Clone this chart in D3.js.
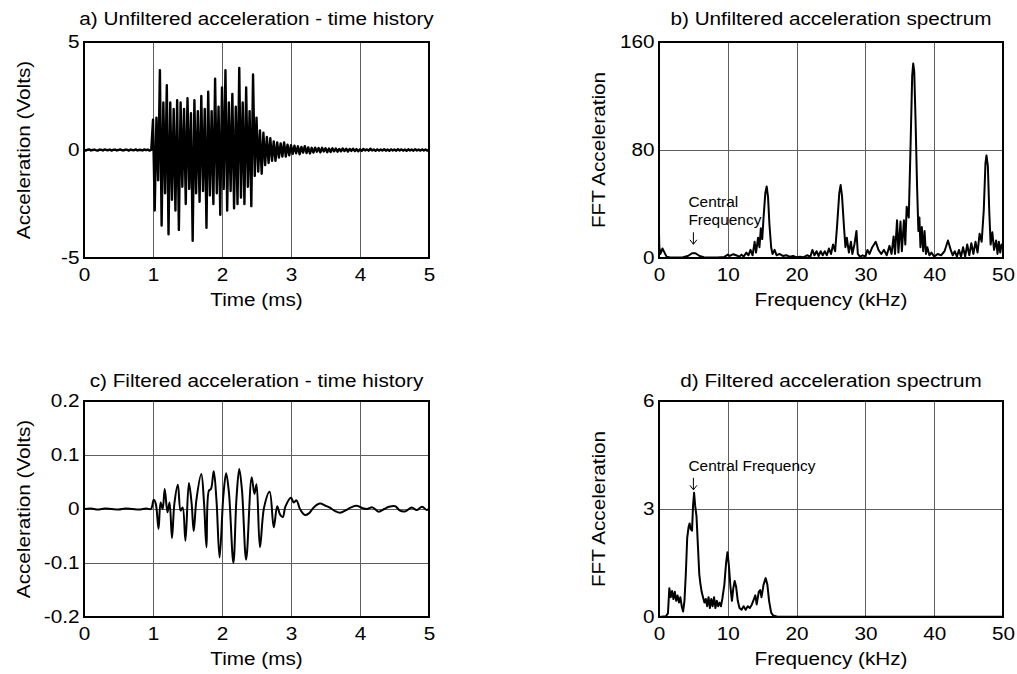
<!DOCTYPE html>
<html>
<head>
<meta charset="utf-8">
<script src="https://cdn.jsdelivr.net/npm/d3@7"></script>
<style>
  body { margin: 0; background: #fff; }
  text { font-family: Arial, "Liberation Sans", Helvetica, sans-serif; fill: #000; }
</style>
</head>
<body>
<svg id="chart" width="1017" height="674"></svg>
<script>
// ---- a) unfiltered acceleration, sampled every 0.025 ms from 0 ms ----
const accelStartMs = 0;
const accelStepMs = 0.025;
const accelPreTrigger = [0.02,-0.03,0.01,0.03,-0.02,0.00,0.02,-0.01,-0.03,0.02,0.01,-0.02,0.03,0.00,-0.01,0.02,-0.03,0.01,0.02,-0.02,
  0.00,0.03,-0.01,-0.02,0.02,0.01,-0.03,0.02,0.00,-0.01,0.03,-0.02,0.01,0.00,-0.02,0.03,-0.01,0.02,-0.03,0.01];
const accelBurst = [1.4,-2.8,1.5,-1.4,3.7,-3.5,2.2,-2.0,3.0,-3.9,2.2,-2.3,1.9,-2.8,2.3,-3.7,2.2,-1.7,1.9,-2.5,
  2.4,-1.8,1.7,-4.2,2.3,-2.0,1.8,-2.4,2.5,-1.9,1.9,-3.6,2.7,-2.1,1.8,-2.5,3.3,-2.0,2.0,-3.0,
  2.9,-1.8,3.7,-2.8,2.2,-1.9,2.6,-2.7,2.0,-2.5,3.8,-2.2,2.2,-2.5,2.9,-1.7,1.8,-2.6,3.5,-1.2,
  1.5,-1.0,0.9,-1.1,0.8,-0.7,0.6,-0.6,0.55,-0.5,0.4,-0.5,0.35,-0.35,0.3,-0.3,0.35,-0.3,0.25,-0.25];
const accelTail = [0.22,-0.18,0.2,-0.15,0.17,-0.2,0.14,-0.12,0.18,-0.14,0.12,-0.16,
  0.1,-0.12,0.11,-0.08,0.09,-0.11,0.1,-0.07,0.08,-0.1,0.07,-0.09,
  0.08,-0.06,0.07,-0.08,0.05,-0.06,0.07,-0.05,0.06,-0.07,0.05,-0.04,0.06,-0.05,0.04,-0.06,
  0.03,-0.04,0.05,-0.02,0.03,-0.03,0.06,-0.02,0.02,-0.04,0.03,-0.03,0.02,-0.02,0.04,-0.03,0.02,-0.04,0.03,-0.02,
  0.02,-0.03,0.04,-0.02,0.03,-0.03,0.02,-0.04,0.03,-0.02,0.02,-0.03,0.04,-0.02,0.02,-0.03,0.03,-0.02,0.02,-0.03,0.01];

// ---- b) unfiltered spectrum ----
const specRawKHz = [0,0.05,0.2,0.5,0.8,1.1,1.5,2.5,3.5,4.2,4.8,5.3,5.9,6.5,7.5,8.5,9.5,10.0,10.3,10.8,11.2,11.7,12.0,12.3,12.7,13.0,13.3,13.6,13.9,14.1,
  14.4,14.6,14.8,15.0,15.2,15.45,15.65,15.85,16.05,16.3,16.5,16.8,17.1,17.5,18.0,18.5,19.0,19.5,20.0,20.5,21.0,21.5,22.0,22.3,22.6,22.9,23.2,23.5,23.8,24.1,
  24.4,24.7,25.0,25.3,25.6,25.9,26.2,26.4,26.6,26.9,27.1,27.3,27.6,27.9,28.1,28.4,28.7,28.9,29.2,29.6,30.0,30.3,30.6,31.0,31.5,31.9,32.3,32.7,33.1,33.5,
  33.8,34.1,34.3,34.6,34.8,35.1,35.3,35.6,35.8,36.0,36.3,36.55,36.8,36.95,37.1,37.3,37.5,37.7,37.85,38.0,38.2,38.4,38.6,38.8,39.0,39.3,39.6,40.0,40.5,41.0,
  41.5,42.0,42.4,42.7,43.0,43.3,43.6,43.9,44.2,44.5,44.8,45.1,45.4,45.7,46.0,46.3,46.6,46.9,47.2,47.45,47.6,47.8,48.0,48.2,48.45,48.7,49.0,49.2,49.4,49.6,
  49.8,50.0];
const specRawAmp = [19,8,3,7,4,1,0.5,0.3,0.5,1.5,3.5,3.5,1.5,0.5,0.3,0.4,0.8,2.5,1.5,2.8,2.0,1.0,2.5,1.0,4,2,6,2,12,4,
  15,8,22,14,30,48,53,45,25,8,3,6,2,3,1.5,2,1,1.5,0.5,1,0.5,2,1,6,2,5,1.5,5,2,5,
  2,7,3,10,5,25,48,54,46,22,8,15,4,12,3,10,20,3,1,2,1,6,3,8,12,6,3,6,2,9,
  3,16,3,28,4,27,5,28,10,38,30,80,135,144,138,100,55,20,30,8,23,5,20,3,8,2,4,1,3,2,
  5,13,6,2,5,1,6,1,8,1,10,2,11,3,12,4,18,12,35,70,76,68,35,10,19,6,13,3,12,4,
  10,8];

// ---- c) filtered acceleration ----
const filtTimeMs = [0,0.1,0.2,0.3,0.4,0.5,0.6,0.7,0.8,0.9,0.97,1.01,1.04,1.08,1.11,1.14,1.17,1.21,1.24,1.275,
  1.31,1.36,1.40,1.43,1.47,1.52,1.56,1.59,1.63,1.70,1.74,1.775,1.81,1.84,1.88,1.92,1.965,2.02,2.06,2.10,
  2.165,2.21,2.25,2.29,2.35,2.43,2.47,2.50,2.55,2.61,2.69,2.75,2.80,2.84,2.88,2.92,3.00,3.04,3.08,3.13,
  3.20,3.26,3.33,3.42,3.50,3.57,3.64,3.71,3.80,3.87,3.95,4.03,4.10,4.18,4.27,4.35,4.42,4.51,4.58,4.66,
  4.75,4.82,4.90,4.97,5.00];
const filtVolts = [0,0.001,-0.001,0.001,0,-0.001,0.001,0,-0.001,0.001,0,0.017,0.010,-0.037,0.012,0.000,0.037,-0.006,0.012,-0.054,
  0.010,0.045,-0.003,0.003,-0.059,0.048,0.010,-0.041,0.018,0.065,0.010,-0.071,0.034,0.037,0.070,0.016,-0.090,0.025,0.066,0.031,
  -0.100,0.020,0.074,0.034,-0.094,0.059,0.028,0.046,-0.071,0.003,0.032,-0.034,0.005,-0.010,-0.015,0.005,0.021,0.012,0.016,0.000,
  -0.011,-0.008,0.003,0.010,0.006,0.002,-0.004,-0.007,-0.002,0.003,0.006,0.002,0.000,0.003,-0.005,0.000,0.004,0.005,-0.003,-0.004,
  0.003,-0.002,0.004,-0.002,0.001];

// ---- d) filtered spectrum ----
const specFiltKHz = [0,1.0,1.3,1.5,1.7,1.9,2.1,2.3,2.5,2.7,2.9,3.1,3.3,3.5,3.7,3.9,4.1,4.3,4.45,4.6,
  4.8,4.95,5.1,5.25,5.45,5.65,5.85,6.0,6.2,6.4,6.6,6.8,7.0,7.2,7.4,7.6,7.8,8.0,8.2,8.4,
  8.6,8.8,9.0,9.2,9.5,9.75,9.95,10.15,10.4,10.6,10.8,11.0,11.2,11.45,11.7,12.0,12.3,12.6,12.9,13.2,
  13.5,13.8,14.0,14.2,14.5,14.7,14.9,15.2,15.5,15.75,16.0,16.3,16.6,17.2,20,50];
const specFiltAmp = [0,0.02,0.1,0.8,0.55,0.72,0.5,0.7,0.45,0.6,0.4,0.55,0.3,0.15,0.45,1.2,2.2,2.5,2.6,2.45,
  2.4,3.1,3.45,3.1,2.8,2.0,1.2,0.95,0.7,0.55,0.4,0.5,0.3,0.55,0.25,0.5,0.3,0.55,0.25,0.45,
  0.3,0.4,0.3,0.5,0.9,1.5,1.8,1.45,0.8,0.45,0.8,1.0,0.85,0.45,0.25,0.2,0.3,0.2,0.3,0.25,
  0.35,0.5,0.6,0.35,0.7,0.75,0.55,0.9,1.08,0.9,0.45,0.12,0.04,0.01,0.01,0.01];

// ---- axis ticks ----
const timeTicks = [0,1,2,3,4,5];
const freqTicks = [0,10,20,30,40,50];
const accelTicks = [-5,0,5];
const specRawTicks = [0,80,160];
const filtTicks = [-0.2,-0.1,0,0.1,0.2];
const specFiltTicks = [0,3,6];

const accelPoints = accelPreTrigger.concat(accelBurst, accelTail)
  .map((v, i) => ({x: accelStartMs + i * accelStepMs, y: v}));
const zipXY = (xs, ys) => xs.map((x, i) => ({x, y: ys[i]}));

const panels = [
  {id: "a", box: {left: 84, top: 42, width: 345, height: 216}, titleGap: 17,
   title: "a) Unfiltered acceleration - time history", xLabel: "Time (ms)", yLabel: "Acceleration (Volts)",
   xDomain: [0, 5], yDomain: [-5, 5], xTicks: timeTicks, yTicks: accelTicks,
   points: accelPoints, lineWidth: 2.4},
  {id: "b", box: {left: 659, top: 42, width: 344, height: 216}, titleGap: 17,
   title: "b) Unfiltered acceleration spectrum", xLabel: "Frequency (kHz)", yLabel: "FFT Acceleration",
   xDomain: [0, 50], yDomain: [0, 160], xTicks: freqTicks, yTicks: specRawTicks,
   points: zipXY(specRawKHz, specRawAmp), lineWidth: 2,
   note: {lines: ["Central", "Frequency"], atX: 5, gap: 9}},
  {id: "c", box: {left: 84, top: 401, width: 345, height: 216}, titleGap: 14,
   title: "c) Filtered acceleration - time history", xLabel: "Time (ms)", yLabel: "Acceleration (Volts)",
   xDomain: [0, 5], yDomain: [-0.2, 0.2], xTicks: timeTicks, yTicks: filtTicks,
   points: zipXY(filtTimeMs, filtVolts), lineWidth: 2, smooth: true},
  {id: "d", box: {left: 659, top: 401, width: 344, height: 216}, titleGap: 14,
   title: "d) Filtered acceleration spectrum", xLabel: "Frequency (kHz)", yLabel: "FFT Acceleration",
   xDomain: [0, 50], yDomain: [0, 6], xTicks: freqTicks, yTicks: specFiltTicks,
   points: zipXY(specFiltKHz, specFiltAmp), lineWidth: 2,
   note: {lines: ["Central Frequency"], atX: 5, gap: 3}}
];

const FONT = 18.5;      // axis text size
const STRETCH = 1.12;   // horizontal glyph stretch of the axis text
const NOTE_FONT = 15;
const NOTE_STRETCH = 1.03;

const svg = d3.select("#chart");
const fmt = v => String(v).replace("\u2212", "-");

// text placed at (x, y) and stretched along its writing direction
function label(parent, x, y, str, opts = {}) {
  const size = opts.size || FONT, sx = opts.stretch || STRETCH, rot = opts.rotate || 0;
  return parent.append("text")
    .attr("transform", `translate(${x},${y}) rotate(${rot}) scale(${sx},1)`)
    .attr("text-anchor", opts.anchor || "middle")
    .attr("font-size", size)
    .text(str);
}

panels.forEach(p => {
  const {left, top, width, height} = p.box;
  const x = d3.scaleLinear().domain(p.xDomain).range([0, width]);
  const y = d3.scaleLinear().domain(p.yDomain).range([height, 0]);
  const g = svg.append("g").attr("transform", `translate(${left},${top})`);

  // grid lines
  g.append("g").attr("class", "grid-x")
    .attr("transform", `translate(0,${height})`)
    .call(d3.axisBottom(x).tickValues(p.xTicks).tickSize(-height).tickFormat(""))
    .call(s => s.select(".domain").remove())
    .selectAll("line").attr("stroke", "#5e5e5e").attr("stroke-width", 1).attr("shape-rendering", "crispEdges");
  g.append("g").attr("class", "grid-y")
    .call(d3.axisLeft(y).tickValues(p.yTicks).tickSize(-width).tickFormat(""))
    .call(s => s.select(".domain").remove())
    .selectAll("line").attr("stroke", "#5e5e5e").attr("stroke-width", 1).attr("shape-rendering", "crispEdges");

  // data trace
  const clipId = "clip-" + p.id;
  g.append("clipPath").attr("id", clipId)
    .append("rect").attr("x", -1).attr("y", -1).attr("width", width + 2).attr("height", height + 2);
  const line = d3.line().x(d => x(d.x)).y(d => y(d.y))
    .curve(p.smooth ? d3.curveCatmullRom.alpha(0.5) : d3.curveLinear);
  g.append("path").datum(p.points)
    .attr("clip-path", `url(#${clipId})`)
    .attr("fill", "none").attr("stroke", "#000")
    .attr("stroke-width", p.lineWidth).attr("stroke-linejoin", "round")
    .attr("d", line);

  // frame
  g.append("rect").attr("width", width).attr("height", height)
    .attr("fill", "none").attr("stroke", "#000").attr("stroke-width", 1.2)
    .attr("shape-rendering", "crispEdges");

  // tick labels
  const xAxis = g.append("g").attr("transform", `translate(0,${height})`)
    .call(d3.axisBottom(x).tickValues(p.xTicks).tickSize(0).tickPadding(10).tickFormat(fmt));
  xAxis.select(".domain").remove();
  xAxis.selectAll("text").attr("font-size", FONT).attr("font-family", null)
    .attr("transform", `scale(${STRETCH},1)`);
  const yAxis = g.append("g")
    .call(d3.axisLeft(y).tickValues(p.yTicks).tickSize(0).tickPadding(4).tickFormat(fmt));
  yAxis.select(".domain").remove();
  yAxis.selectAll("text").attr("font-size", FONT).attr("font-family", null)
    .attr("transform", `scale(${STRETCH},1)`);

  // title and axis labels
  label(g, width / 2, -p.titleGap, p.title);
  label(g, width / 2, height + 48, p.xLabel);
  label(g, -54, height / 2, p.yLabel, {rotate: -90});

  // "Central Frequency" annotation with a down arrow
  if (p.note) {
    const nx = x(p.note.atX);
    const peak = d3.max(p.points.filter(d => Math.abs(d.x - p.note.atX) < 0.6), d => d.y);
    const tip = y(peak) - p.note.gap;
    const arrow = g.append("g").attr("stroke", "#000").attr("stroke-width", 1).attr("fill", "none");
    arrow.append("line").attr("x1", nx).attr("x2", nx).attr("y1", tip - 12).attr("y2", tip);
    arrow.append("path").attr("d", `M${nx - 3.5},${tip - 4.5}L${nx},${tip}L${nx + 3.5},${tip - 4.5}`);
    p.note.lines.slice().reverse().forEach((t, i) => {
      label(g, nx - 5, tip - 19 - i * 18, t, {size: NOTE_FONT, stretch: NOTE_STRETCH, anchor: "start"});
    });
  }
});
</script>
</body>
</html>
